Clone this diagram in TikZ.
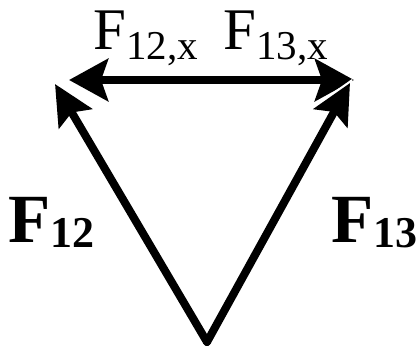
\documentclass[tikz,border=0pt]{standalone}
\usepackage{fontspec}
\setmainfont{Liberation Serif}
\usetikzlibrary{arrows.meta}
\begin{document}
\begin{tikzpicture}[x=1pt,y=-1pt,
 vec/.style={line width=8pt, line cap=round, -{Stealth[length=40pt,width=38pt,inset=7pt]}},
 hvec/.style={line width=8pt, -{Stealth[length=39pt,width=42pt,inset=7pt]}},
 gap/.style={white, line width=8pt, shorten >=-5pt, -{Stealth[length=50pt,width=48pt,inset=9pt]}},
 lab/.style={inner sep=0pt, anchor=base west, font=\fontsize{59}{59}\selectfont},
 blab/.style={inner sep=0pt, anchor=base west, font=\bfseries\fontsize{69}{69}\selectfont}]
\useasboundingbox (0,0) rectangle (419,350);
\coordinate (o) at (207,342);
\coordinate (m) at (197,80);
\coordinate (hl) at (69,80);
\coordinate (hr) at (354,80);
\coordinate (dl) at (55,84);
\coordinate (dr) at (350,83);
\draw[hvec] (m) -- (hl);
\draw[hvec] (m) -- (hr);
\draw[gap] (o) -- (dl);
\draw[gap] (o) -- (dr);
\draw[vec] (o) -- (dl);
\draw[vec] (o) -- (dr);
\node[lab] (t1) at (93,50) {F\raisebox{-10pt}{\fontsize{41}{41}\selectfont 12,x}};
\node[lab] (t2) at (223,50) {F\raisebox{-10pt}{\fontsize{41}{41}\selectfont 13,x}};
\node[blab] (b1) at (8,242) {F\raisebox{-5pt}{\fontsize{44}{44}\selectfont 12}};
\node[blab] (b2) at (331,242) {F\raisebox{-5pt}{\fontsize{44}{44}\selectfont 13}};
\end{tikzpicture}
\end{document}
